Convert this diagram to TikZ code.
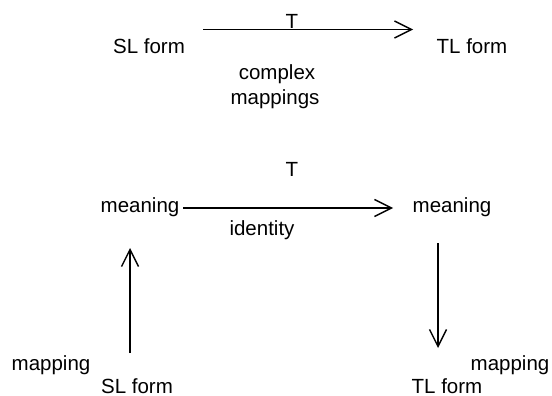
\documentclass[tikz,border=0pt]{standalone}
\usepackage{fontspec}
\setmainfont{Liberation Sans}
\usetikzlibrary{arrows.meta}
\tikzset{
  lbl/.style={
    inner sep=0pt,
    anchor=base,
    font=\fontsize{20.5}{24}\selectfont
  },
  map-arrow/.style={
    line width=1.4pt,
    -{Straight Barb[length=17pt,width=17pt]}
  }
}

\begin{document}
\begin{tikzpicture}[x=1pt,y=-1pt]
  \useasboundingbox (0,0) rectangle (552,396);

  % direct translation
  \node[lbl] (sl-top) at (149,54) {SL form};
  \node[lbl] (tl-top) at (472,54) {TL form};
  \node[lbl] (t-top) at (292,29) {T};
  \node[lbl] (complex) at (277,80) {complex};
  \node[lbl] (mappings) at (275,104) {mappings};
  \coordinate (top-from) at (203,29.5);
  \coordinate (top-to) at (413,29.5);
  \draw[map-arrow] (top-from) -- (top-to);

  % via meaning
  \node[lbl] (t-mid) at (292,176) {T};
  \node[lbl] (meaning-sl) at (140,212) {meaning};
  \node[lbl] (meaning-tl) at (452,212) {meaning};
  \node[lbl] (identity) at (262,235) {identity};
  \node[lbl] (mapping-sl) at (51,370) {mapping};
  \node[lbl] (mapping-tl) at (510,370) {mapping};
  \node[lbl] (sl-bot) at (137,393) {SL form};
  \node[lbl] (tl-bot) at (447,393) {TL form};
  \coordinate (mid-from) at (183,208);
  \coordinate (mid-to) at (393,208);
  \coordinate (up-from) at (130,353);
  \coordinate (up-to) at (130,248);
  \coordinate (down-from) at (438,243);
  \coordinate (down-to) at (438,348);
  \draw[map-arrow] (mid-from) -- (mid-to);
  \draw[map-arrow] (up-from) -- (up-to);
  \draw[map-arrow] (down-from) -- (down-to);
\end{tikzpicture}
\end{document}
